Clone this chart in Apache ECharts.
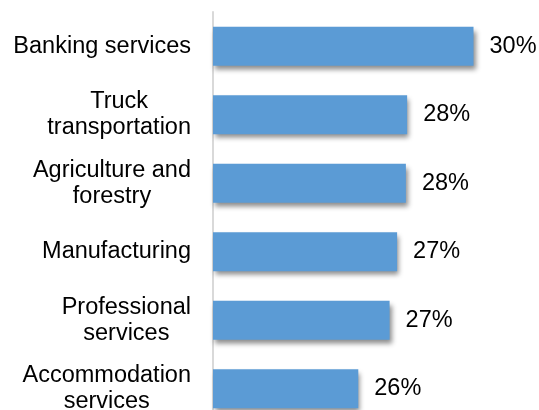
<!DOCTYPE html>
<html>
<head>
<meta charset="utf-8">
<script src="https://cdn.jsdelivr.net/npm/echarts@6/dist/echarts.min.js"></script>
<style>
  html, body { margin: 0; padding: 0; background: #fff; }
  #chart { width: 539px; height: 410px; }
</style>
</head>
<body>
<div id="chart"></div>
<script>
// Industries, top to bottom
const categories = [
  'Banking services',
  'Truck\ntransportation',
  'Agriculture and\nforestry',
  'Manufacturing',
  'Professional\nservices',
  'Accommodation\nservices'
];
// Share, in percent
const values = [30.4, 27.75, 27.7, 27.35, 27.05, 25.8];

const FONT = '"Liberation Sans", Arial, sans-serif';
const SIZE = 23.5;

const chart = echarts.init(document.getElementById('chart'), null, { renderer: 'canvas' });

chart.setOption({
  animation: false,
  backgroundColor: '#ffffff',
  grid: {
    left: 213, top: 12, width: 300.6, height: 411,
    containLabel: false,
    outerBoundsMode: 'none'
  },
  xAxis: {
    type: 'value',
    min: 20,
    max: 32,
    show: false
  },
  yAxis: {
    type: 'category',
    data: categories,
    inverse: true,
    axisLine: { show: true, lineStyle: { color: '#d9d9d9', width: 2 } },
    axisTick: { show: false },
    axisLabel: {
      margin: 22,
      color: '#000',
      fontFamily: FONT,
      fontSize: SIZE,
      lineHeight: 26,
      formatter: function (name) {
        return name.split('\n').map(function (l) { return '{c|' + l + '}'; }).join('\n');
      },
      rich: {
        c: { align: 'center', color: '#000', fontFamily: FONT, fontSize: SIZE, lineHeight: 26 }
      }
    },
    splitLine: { show: false }
  },
  series: [{
    type: 'bar',
    data: values,
    barWidth: 39,
    itemStyle: {
      color: '#5b9bd5',
      shadowColor: 'rgba(0,0,0,0.45)',
      shadowBlur: 5,
      shadowOffsetX: 2,
      shadowOffsetY: 4
    },
    label: {
      show: true,
      position: 'right',
      distance: 16,
      color: '#000',
      fontFamily: FONT,
      fontSize: SIZE,
      formatter: function (p) { return Math.round(p.value) + '%'; }
    }
  }]
});
</script>
</body>
</html>
